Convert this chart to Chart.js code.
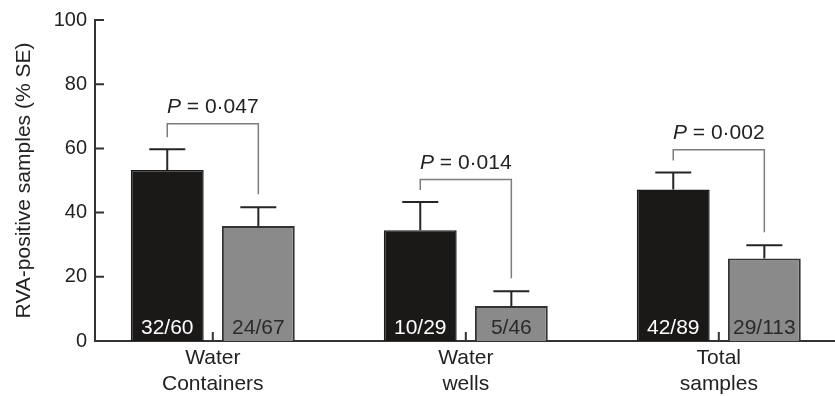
<!DOCTYPE html>
<html lang="en">
<head>
    <meta charset="UTF-8">
    <title>RVA-positive samples</title>
    <script src="https://cdn.jsdelivr.net/npm/chart.js"></script>
    <style>
        body {
            margin: 0;
            padding: 0;
            background: #fff;
        }
        .chart-box {
            width: 835px;
            height: 396px;
        }
    </style>
</head>
<body>
<div class="chart-box">
    <canvas id="rvaChart" width="835" height="396"></canvas>
</div>

<script>
    // data
    const categories = [["Water", "Containers"], ["Water", "wells"], ["Total", "samples"]];
    const firstValues = [53.3, 34.5, 47.2];
    const firstSE = [6.4, 8.8, 5.3];
    const firstCounts = ["32/60", "10/29", "42/89"];
    const secondValues = [35.8, 10.9, 25.7];
    const secondSE = [5.9, 4.6, 4.1];
    const secondCounts = ["24/67", "5/46", "29/113"];
    const pLabels = ["0·047", "0·014", "0·002"];
    const bracketLevel = [67.7, 50.3, 59.6];
    const yTicks = [0, 20, 40, 60, 80, 100];

    const FONT = "'Liberation Sans', Arial, sans-serif";
    const TEXT = "#222";

    const errors = [firstSE, secondSE];
    const counts = [firstCounts, secondCounts];

    const extras = {
        id: "extras",
        afterDatasetsDraw(chart) {
            const ctx = chart.ctx;
            const x = chart.scales.x, y = chart.scales.y;
            const metas = [chart.getDatasetMeta(0), chart.getDatasetMeta(1)];
            ctx.save();

            // error bars (upper only)
            ctx.strokeStyle = "#262626";
            ctx.lineWidth = 2;
            metas.forEach((meta, d) => {
                meta.data.forEach((bar, i) => {
                    const v = chart.data.datasets[d].data[i].y;
                    const top = y.getPixelForValue(v + errors[d][i]);
                    ctx.beginPath();
                    ctx.moveTo(bar.x, bar.y);
                    ctx.lineTo(bar.x, top);
                    ctx.moveTo(bar.x - 18, top);
                    ctx.lineTo(bar.x + 18, top);
                    ctx.stroke();
                });
            });

            // counts inside the bars
            ctx.font = "21px " + FONT;
            ctx.textAlign = "center";
            ctx.textBaseline = "alphabetic";
            metas.forEach((meta, d) => {
                meta.data.forEach((bar, i) => {
                    ctx.fillStyle = d === 0 ? "#fff" : "#2a2a2a";
                    ctx.fillText(counts[d][i], bar.x, y.bottom - 7);
                });
            });

            // brackets with P values
            ctx.strokeStyle = "#7d7d7d";
            ctx.lineWidth = 1.5;
            categories.forEach((c, i) => {
                const b1 = metas[0].data[i], b2 = metas[1].data[i];
                const level = y.getPixelForValue(bracketLevel[i]);
                const l = y.getPixelForValue(firstValues[i] + firstSE[i]) - 12;
                const r = y.getPixelForValue(secondValues[i] + secondSE[i]) - 13;
                ctx.beginPath();
                ctx.moveTo(b1.x, l);
                ctx.lineTo(b1.x, level);
                ctx.lineTo(b2.x, level);
                ctx.lineTo(b2.x, r);
                ctx.stroke();

                const rest = " = " + pLabels[i];
                ctx.font = "italic 21px " + FONT;
                const wP = ctx.measureText("P").width;
                ctx.font = "21px " + FONT;
                const wR = ctx.measureText(rest).width;
                const start = (b1.x + b2.x) / 2 - (wP + wR) / 2;
                ctx.fillStyle = TEXT;
                ctx.textAlign = "left";
                ctx.font = "italic 21px " + FONT;
                ctx.fillText("P", start, level - 11);
                ctx.font = "21px " + FONT;
                ctx.fillText(rest, start + wP, level - 11);
                ctx.textAlign = "center";
            });

            // inward tick marks
            ctx.strokeStyle = "#333";
            ctx.lineWidth = 2;
            ctx.beginPath();
            yTicks.forEach(t => {
                const py = y.getPixelForValue(t);
                ctx.moveTo(x.left, py);
                ctx.lineTo(x.left + 9, py);
            });
            categories.forEach((c, i) => {
                const px = x.getPixelForValue(i);
                ctx.moveTo(px, y.bottom);
                ctx.lineTo(px, y.bottom - 9);
            });
            ctx.stroke();
            ctx.restore();
        }
    };

    new Chart(document.getElementById("rvaChart"), {
        type: "bar",
        data: {
            datasets: [{
                data: firstValues.map((v, i) => ({ x: i, y: v })),
                backgroundColor: "#1b1818",
                borderColor: "#1b1818",
                borderWidth: 1.5
            }, {
                data: secondValues.map((v, i) => ({ x: i, y: v })),
                backgroundColor: "#8a8a8a",
                borderColor: "#333",
                borderWidth: 2
            }]
        },
        options: {
            responsive: false,
            animation: false,
            categoryPercentage: 0.72,
            barPercentage: 0.8,
            layout: { padding: { top: 19, left: 0, right: 0, bottom: 0 } },
            plugins: { legend: { display: false }, tooltip: { enabled: false } },
            scales: {
                x: {
                    type: "linear",
                    min: -0.4656,
                    max: 2.4593,
                    offset: false,
                    grid: { display: false, offset: false, drawTicks: false },
                    border: { display: true, color: "#333", width: 2 },
                    afterBuildTicks: s => { s.ticks = categories.map((c, i) => ({ value: i })); },
                    afterFit: s => { s.height = 55; },
                    ticks: {
                        callback: v => categories[v],
                        autoSkip: false,
                        maxRotation: 0,
                        padding: 5,
                        color: TEXT,
                        font: { family: FONT, size: 21, lineHeight: 1.2 }
                    }
                },
                y: {
                    min: 0,
                    max: 100,
                    grid: { display: false, drawTicks: false },
                    border: { display: true, color: "#333", width: 2 },
                    afterBuildTicks: s => { s.ticks = yTicks.map(v => ({ value: v })); },
                    afterFit: s => { s.width = 95; },
                    ticks: {
                        padding: 8,
                        color: TEXT,
                        font: { family: FONT, size: 20 }
                    },
                    title: {
                        display: true,
                        text: "RVA-positive samples (% SE)",
                        color: TEXT,
                        padding: { top: 12, bottom: 0 },
                        font: { family: FONT, size: 21 }
                    }
                }
            }
        },
        plugins: [extras]
    });
</script>
</body>
</html>
